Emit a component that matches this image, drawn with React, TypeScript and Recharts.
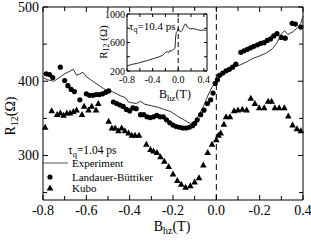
import { ComposedChart, Line, Scatter, XAxis, YAxis, ReferenceLine, ReferenceArea } from 'recharts'

const FONT = '"Liberation Serif", "Times New Roman", serif'

// main panel frame (px)
const TOP = 7
const BOTTOM = 200
const LEFT = 43
const RIGHT = 303

// inset frame (px)
const I_TOP = 14
const I_BOTTOM = 71
const I_LEFT = 127
const I_RIGHT = 207

const xTicks = [-0.8, -0.7, -0.6, -0.5, -0.4, -0.3, -0.2, -0.1, 0, 0.1, 0.2, 0.3, 0.4]
const xTickLabels = ['-0.8', '-0.6', '-0.4', '-0.2', '0.0', '-0.2', '0.4']
const yTicks = [250, 300, 350, 400, 450, 500]
const yTickLabels: Record<number, string> = { 300: '300', 400: '400', 500: '500' }

const insetXTicks = [-0.8, -0.6, -0.4, -0.2, 0, 0.2, 0.4]
const insetXTickLabels = ['-0.8', '-0.4', '0.0', '0.4']
const insetYTicks = [200, 400, 600, 800, 1000]
const insetYTickLabels: Record<number, string> = { 200: '200', 600: '600', 1000: '1000' }

const experiment = [
  { b: -0.8, r: 405 }, { b: -0.78, r: 402 }, { b: -0.75, r: 400 }, { b: -0.72, r: 406 },
  { b: -0.7, r: 410 }, { b: -0.68, r: 413 }, { b: -0.66, r: 416 }, { b: -0.645, r: 408 },
  { b: -0.63, r: 410 }, { b: -0.615, r: 412 }, { b: -0.6, r: 406 }, { b: -0.58, r: 402 },
  { b: -0.56, r: 398 }, { b: -0.54, r: 394 }, { b: -0.52, r: 390 }, { b: -0.5, r: 387 },
  { b: -0.48, r: 386 }, { b: -0.46, r: 383 }, { b: -0.44, r: 380 }, { b: -0.42, r: 378 },
  { b: -0.405, r: 372 }, { b: -0.39, r: 371 }, { b: -0.37, r: 370 }, { b: -0.35, r: 373 },
  { b: -0.33, r: 369 }, { b: -0.3, r: 367 }, { b: -0.27, r: 365 }, { b: -0.24, r: 362 },
  { b: -0.21, r: 359 }, { b: -0.18, r: 353 }, { b: -0.15, r: 348 }, { b: -0.12, r: 343 },
  { b: -0.1, r: 346 }, { b: -0.085, r: 352 }, { b: -0.06, r: 366 }, { b: -0.04, r: 380 },
  { b: -0.02, r: 392 }, { b: 0, r: 400 }, { b: 0.02, r: 408 }, { b: 0.05, r: 415 },
  { b: 0.08, r: 419 }, { b: 0.11, r: 422 }, { b: 0.14, r: 426 }, { b: 0.17, r: 431 },
  { b: 0.2, r: 434 }, { b: 0.23, r: 438 }, { b: 0.26, r: 444 }, { b: 0.28, r: 452 },
  { b: 0.3, r: 464 }, { b: 0.315, r: 468 }, { b: 0.33, r: 463 }, { b: 0.35, r: 466 },
  { b: 0.375, r: 472 }, { b: 0.39, r: 478 }, { b: 0.4, r: 488 },
]

const landauer = [
  { b: -0.785, r: 410 }, { b: -0.77, r: 409 }, { b: -0.755, r: 405 }, { b: -0.72, r: 419 },
  { b: -0.7, r: 401 }, { b: -0.685, r: 394 }, { b: -0.67, r: 389 }, { b: -0.655, r: 386 },
  { b: -0.63, r: 375 }, { b: -0.6, r: 383 }, { b: -0.585, r: 381 }, { b: -0.57, r: 381 },
  { b: -0.555, r: 382 }, { b: -0.54, r: 382 }, { b: -0.525, r: 383 }, { b: -0.51, r: 385 },
  { b: -0.497, r: 387 }, { b: -0.475, r: 372 }, { b: -0.46, r: 370 }, { b: -0.445, r: 368 },
  { b: -0.43, r: 366 }, { b: -0.415, r: 362 }, { b: -0.4, r: 360 }, { b: -0.385, r: 364 },
  { b: -0.37, r: 363 }, { b: -0.35, r: 355 }, { b: -0.335, r: 355 }, { b: -0.32, r: 352 },
  { b: -0.305, r: 351 }, { b: -0.29, r: 352 }, { b: -0.275, r: 354 }, { b: -0.26, r: 352 },
  { b: -0.245, r: 352 }, { b: -0.23, r: 348 }, { b: -0.215, r: 344 }, { b: -0.2, r: 341 },
  { b: -0.185, r: 339 }, { b: -0.17, r: 338 }, { b: -0.155, r: 337 }, { b: -0.14, r: 337 },
  { b: -0.125, r: 338 }, { b: -0.11, r: 340 }, { b: -0.1, r: 343 }, { b: -0.088, r: 348 },
  { b: -0.072, r: 355 }, { b: -0.057, r: 361 }, { b: -0.041, r: 370 }, { b: -0.026, r: 375 },
  { b: -0.015, r: 384 }, { b: -0.005, r: 397 }, { b: 0.005, r: 402 }, { b: 0.015, r: 408 },
  { b: 0.03, r: 411 }, { b: 0.045, r: 414 }, { b: 0.06, r: 416 }, { b: 0.075, r: 419 },
  { b: 0.09, r: 423 }, { b: 0.113, r: 439 }, { b: 0.128, r: 441 }, { b: 0.143, r: 443 },
  { b: 0.158, r: 445 }, { b: 0.173, r: 447 }, { b: 0.19, r: 449 }, { b: 0.205, r: 451 },
  { b: 0.22, r: 452 }, { b: 0.235, r: 455 }, { b: 0.25, r: 457 }, { b: 0.265, r: 461 },
  { b: 0.28, r: 464 }, { b: 0.3, r: 459 }, { b: 0.318, r: 458 }, { b: 0.35, r: 478 },
  { b: 0.365, r: 477 }, { b: 0.39, r: 473 },
]

const kubo = [
  { b: -0.79, r: 338 }, { b: -0.76, r: 360 }, { b: -0.735, r: 355 }, { b: -0.72, r: 357 },
  { b: -0.705, r: 354 }, { b: -0.69, r: 357 }, { b: -0.675, r: 357 }, { b: -0.66, r: 359 },
  { b: -0.645, r: 361 }, { b: -0.62, r: 355 }, { b: -0.61, r: 366 }, { b: -0.59, r: 361 },
  { b: -0.575, r: 366 }, { b: -0.555, r: 361 }, { b: -0.545, r: 370 }, { b: -0.497, r: 346 },
  { b: -0.482, r: 337 }, { b: -0.467, r: 337 }, { b: -0.452, r: 333 }, { b: -0.437, r: 337 },
  { b: -0.422, r: 333 }, { b: -0.405, r: 330 }, { b: -0.39, r: 327 }, { b: -0.375, r: 327 },
  { b: -0.357, r: 327 }, { b: -0.323, r: 315 }, { b: -0.304, r: 308 }, { b: -0.29, r: 306 },
  { b: -0.274, r: 304 }, { b: -0.258, r: 298 }, { b: -0.24, r: 292 }, { b: -0.22, r: 285 },
  { b: -0.2, r: 275 }, { b: -0.18, r: 266 }, { b: -0.162, r: 261 }, { b: -0.142, r: 257 },
  { b: -0.12, r: 259 }, { b: -0.1, r: 264 }, { b: -0.08, r: 270 }, { b: -0.06, r: 287 },
  { b: -0.04, r: 304 }, { b: -0.02, r: 315 }, { b: 0, r: 321 }, { b: 0.01, r: 327 },
  { b: 0.02, r: 330 }, { b: 0.035, r: 342 }, { b: 0.045, r: 352 }, { b: 0.063, r: 352 },
  { b: 0.082, r: 360 }, { b: 0.1, r: 361 }, { b: 0.12, r: 362 }, { b: 0.14, r: 361 },
  { b: 0.159, r: 377 }, { b: 0.178, r: 370 }, { b: 0.198, r: 364 }, { b: 0.221, r: 364 },
  { b: 0.239, r: 373 }, { b: 0.255, r: 373 }, { b: 0.27, r: 364 }, { b: 0.29, r: 364 },
  { b: 0.314, r: 364 }, { b: 0.332, r: 353 }, { b: 0.352, r: 341 }, { b: 0.372, r: 336 },
  { b: 0.39, r: 333 },
]

const insetData = [
  { b: -0.8, r: 272 }, { b: -0.75, r: 285 }, { b: -0.7, r: 298 }, { b: -0.65, r: 305 },
  { b: -0.6, r: 318 }, { b: -0.55, r: 330 }, { b: -0.5, r: 342 }, { b: -0.45, r: 356 },
  { b: -0.4, r: 370 }, { b: -0.35, r: 385 }, { b: -0.3, r: 398 }, { b: -0.25, r: 418 },
  { b: -0.22, r: 440 }, { b: -0.2, r: 460 }, { b: -0.17, r: 470 }, { b: -0.15, r: 455 },
  { b: -0.13, r: 490 }, { b: -0.11, r: 475 }, { b: -0.09, r: 495 }, { b: -0.07, r: 500 },
  { b: -0.05, r: 520 }, { b: -0.04, r: 680 }, { b: -0.03, r: 740 }, { b: -0.01, r: 760 },
  { b: 0, r: 800 }, { b: 0.02, r: 760 }, { b: 0.04, r: 750 }, { b: 0.06, r: 770 },
  { b: 0.08, r: 810 }, { b: 0.1, r: 850 }, { b: 0.12, r: 860 }, { b: 0.14, r: 820 },
  { b: 0.17, r: 800 }, { b: 0.2, r: 790 }, { b: 0.24, r: 795 }, { b: 0.28, r: 785 },
  { b: 0.32, r: 775 }, { b: 0.36, r: 770 }, { b: 0.4, r: 775 }, { b: 0.44, r: 770 },
]

const mainXTick = ({ payload, index }: any) => {
  const x = payload.coordinate
  const major = index % 2 === 0
  const len = major ? 5 : 4
  return (
    <g>
      <line x1={x} x2={x} y1={BOTTOM} y2={BOTTOM - len} stroke="#000" />
      <line x1={x} x2={x} y1={TOP} y2={TOP + len} stroke="#000" />
      {major && (
        <text x={x} y={BOTTOM + 15} textAnchor="middle" fontSize={14} fontFamily={FONT} fill="#000">
          {xTickLabels[index / 2]}
        </text>
      )}
    </g>
  )
}

const mainYTick = ({ payload }: any) => {
  const y = payload.coordinate
  const label = yTickLabels[payload.value]
  const len = label ? 5 : 4
  return (
    <g>
      <line x1={LEFT} x2={LEFT + len} y1={y} y2={y} stroke="#000" />
      <line x1={RIGHT} x2={RIGHT - len} y1={y} y2={y} stroke="#000" />
      {label && (
        <text x={LEFT - 4} y={y + 5} textAnchor="end" fontSize={14} fontFamily={FONT} fill="#000">
          {label}
        </text>
      )}
    </g>
  )
}

const insetXTick = ({ payload, index }: any) => {
  const x = payload.coordinate
  const major = index % 2 === 0
  return (
    <g>
      <line x1={x} x2={x} y1={I_BOTTOM} y2={I_BOTTOM - 3} stroke="#000" />
      <line x1={x} x2={x} y1={I_TOP} y2={I_TOP + 3} stroke="#000" />
      {major && (
        <text x={x} y={I_BOTTOM + 12} textAnchor="middle" fontSize={10} fontFamily={FONT} fill="#000">
          {insetXTickLabels[index / 2]}
        </text>
      )}
    </g>
  )
}

const insetYTick = ({ payload }: any) => {
  const y = payload.coordinate
  const label = insetYTickLabels[payload.value]
  return (
    <g>
      <line x1={I_LEFT} x2={I_LEFT + 3} y1={y} y2={y} stroke="#000" />
      <line x1={I_RIGHT} x2={I_RIGHT - 3} y1={y} y2={y} stroke="#000" />
      {label && (
        <text x={I_LEFT - 2} y={y + 3.5} textAnchor="end" fontSize={10} fontFamily={FONT} fill="#000">
          {label}
        </text>
      )}
    </g>
  )
}

const circleShape = (props: any) => <circle cx={props.cx} cy={props.cy} r={2.6} fill="#000" />

const triangleShape = (props: any) => {
  const { cx, cy } = props
  return <polygon points={`${cx},${cy - 3.6} ${cx - 3.3},${cy + 2.4} ${cx + 3.3},${cy + 2.4}`} fill="#000" />
}

export default function App() {
  return (
    <div style={{ position: 'absolute', left: 0, top: 0, width: 311, height: 241, background: '#fff', fontFamily: FONT }}>
      <div style={{ position: 'absolute', left: 0, top: 0 }}>
        <ComposedChart width={311} height={241} margin={{ top: TOP, right: 311 - RIGHT, bottom: 0, left: 0 }}>
          <ReferenceArea x1={-0.8} x2={0.4} y1={240} y2={500} fill="none" stroke="#000" strokeWidth={1} />
          <ReferenceLine x={0} stroke="#000" strokeDasharray="6 4" />
          <XAxis dataKey="b" type="number" domain={[-0.8, 0.4]} ticks={xTicks} interval={0}
            tick={mainXTick} tickLine={false} axisLine={false} height={241 - BOTTOM} />
          <YAxis dataKey="r" type="number" domain={[240, 500]} ticks={yTicks} interval={0}
            tick={mainYTick} tickLine={false} axisLine={false} width={LEFT} />
          <Line data={experiment} dataKey="r" type="linear" stroke="#333" strokeWidth={1}
            dot={false} isAnimationActive={false} />
          <Scatter data={landauer} shape={circleShape} isAnimationActive={false} />
          <Scatter data={kubo} shape={triangleShape} isAnimationActive={false} />
        </ComposedChart>
      </div>

      <div style={{ position: 'absolute', left: I_LEFT, top: I_TOP, width: I_RIGHT - I_LEFT, height: I_BOTTOM - I_TOP, background: '#fff' }} />

      <div style={{ position: 'absolute', left: 0, top: 0 }}>
        <ComposedChart width={311} height={241} margin={{ top: I_TOP, right: 311 - I_RIGHT, bottom: 0, left: 0 }}>
          <ReferenceArea x1={-0.8} x2={0.45} y1={200} y2={1000} fill="none" stroke="#000" strokeWidth={1} />
          <ReferenceLine x={0} stroke="#000" strokeDasharray="5 3" />
          <XAxis dataKey="b" type="number" domain={[-0.8, 0.45]} ticks={insetXTicks} interval={0}
            tick={insetXTick} tickLine={false} axisLine={false} height={241 - I_BOTTOM} />
          <YAxis dataKey="r" type="number" domain={[200, 1000]} ticks={insetYTicks} interval={0}
            tick={insetYTick} tickLine={false} axisLine={false} width={I_LEFT} />
          <Line data={insetData} dataKey="r" type="linear" stroke="#111" strokeWidth={0.9}
            dot={false} isAnimationActive={false} />
        </ComposedChart>
      </div>

      <svg width={311} height={241} style={{ position: 'absolute', left: 0, top: 0, pointerEvents: 'none' }} fontFamily={FONT}>
        {/* axis titles */}
        <text x={172} y={231} fontSize={14} textAnchor="middle" fill="#000">
          B<tspan fontSize={10} dy={3}>hz</tspan><tspan dy={-3}>(T)</tspan>
        </text>
        <text x={15} y={116} fontSize={14} textAnchor="middle" fill="#000" transform="rotate(-90 15 116)">
          R<tspan fontSize={10} dy={3}>12</tspan><tspan dy={-3}>(Ω)</tspan>
        </text>
        <text x={175} y={98} fontSize={12} textAnchor="middle" fill="#000">
          B<tspan fontSize={9} dy={3}>hz</tspan><tspan dy={-3}>(T)</tspan>
        </text>
        <text x={107} y={42} fontSize={11} textAnchor="middle" fill="#000" transform="rotate(-90 107 42)">
          R<tspan fontSize={8} dy={2}>12</tspan><tspan dy={-2}> (Ω)</tspan>
        </text>

        {/* annotations */}
        <text x={129} y={30} fontSize={11} fill="#000">
          τ<tspan fontSize={8} dy={2}>q</tspan><tspan dy={-2}>=10.4 ps</tspan>
        </text>
        <text x={68} y={154} fontSize={11.5} fill="#000">
          τ<tspan fontSize={8.5} dy={2.5}>q</tspan><tspan dy={-2.5}>=1.04 ps</tspan>
        </text>

        {/* legend */}
        <line x1={42} x2={68} y1={163} y2={163} stroke="#555" strokeWidth={1} />
        <text x={72} y={167} fontSize={11} fill="#000">Experiment</text>
        <circle cx={50} cy={177} r={2.6} fill="#000" />
        <text x={72} y={181} fontSize={11} fill="#000">Landauer-Büttiker</text>
        <polygon points="50,184.4 46.7,190.4 53.3,190.4" fill="#000" />
        <text x={72} y={192} fontSize={11} fill="#000">Kubo</text>
      </svg>
    </div>
  )
}
